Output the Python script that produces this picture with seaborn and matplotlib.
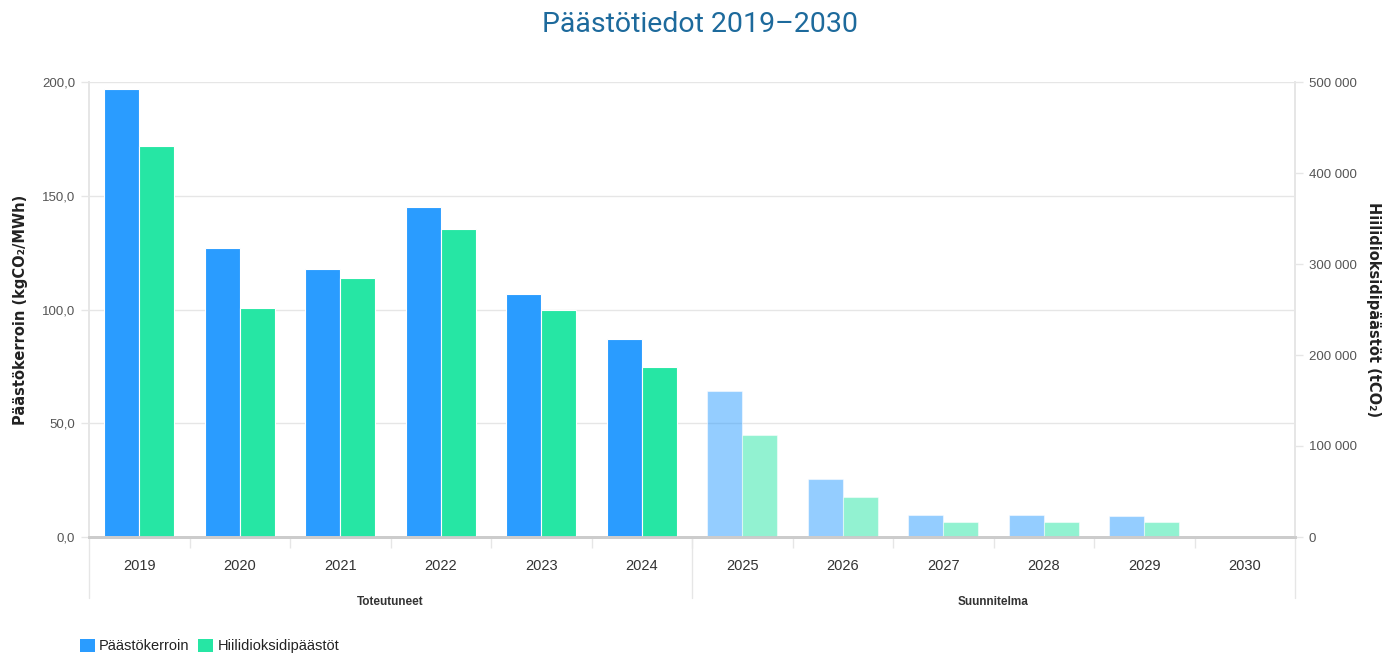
import matplotlib
matplotlib.use("Agg")
import matplotlib.pyplot as plt
import matplotlib.transforms as mtransforms
from matplotlib.patches import Patch
from matplotlib.ticker import FuncFormatter, MultipleLocator, FixedLocator
import seaborn as sns
import pandas as pd

# Data
years = ["2019", "2020", "2021", "2022", "2023", "2024",
         "2025", "2026", "2027", "2028", "2029", "2030"]
emission_factor = [197.0, 127.0, 118.0, 145.0, 107.0, 87.0,
                   64.0, 25.5, 9.7, 9.7, 9.3, 0.0]          # kgCO2/MWh
co2_emissions = [430000, 252000, 285000, 338000, 250000, 187000,
                 112000, 44000, 16500, 16500, 16000, 0]     # tCO2
groups = ["Toteutuneet", "Suunnitelma"]
group_sizes = [6, 6]
series = ["Päästökerroin", "Hiilidioksidipäästöt"]

BLUE = "#2a9cff"
GREEN = "#26e6a4"
GRID = "#e6e6e6"

sns.set_theme(style="white")
plt.rcParams["font.family"] = ["Liberation Sans", "DejaVu Sans"]

df_factor = pd.DataFrame({"Vuosi": years, "arvo": emission_factor, "Sarja": series[0]})
df_co2 = pd.DataFrame({"Vuosi": years, "arvo": co2_emissions, "Sarja": series[1]})

W, H = 1399, 657
fig = plt.figure(figsize=(W / 100, H / 100), dpi=100)
left, right, top, bottom = 89, 1295, 82, 537
ax1 = fig.add_axes([left / W, 1 - bottom / H, (right - left) / W, (bottom - top) / H])
ax2 = ax1.twinx()

palette = {series[0]: BLUE, series[1]: GREEN}
bar_kw = dict(x="Vuosi", y="arvo", hue="Sarja", hue_order=series, order=years,
              palette=palette, width=0.7, saturation=1, legend=False, dodge=True,
              edgecolor="white", linewidth=0.8)
sns.barplot(data=df_factor, ax=ax1, **bar_kw)
sns.barplot(data=df_co2, ax=ax2, **bar_kw)

# Planned years drawn translucent
n_actual = group_sizes[0]
for ax in (ax1, ax2):
    for p in ax.patches:
        cx = p.get_x() + p.get_width() / 2
        if cx > n_actual - 0.5:
            p.set_alpha(0.5)

ax1.set_xlim(-0.5, len(years) - 0.5)
ax1.set_ylim(0, 200)
ax2.set_ylim(0, 500000)

title_font = ["DejaVu Sans"]

# Left axis
ax1.yaxis.set_major_locator(MultipleLocator(50))
ax1.yaxis.set_major_formatter(FuncFormatter(lambda v, _: f"{v:.1f}".replace(".", ",")))
ax1.grid(axis="y", color=GRID, linewidth=1)
ax1.set_axisbelow(True)
ax1.tick_params(axis="y", length=6, width=1, color=GRID, pad=4,
                labelsize=9.5, labelcolor="#555555", left=True)
ax1.set_ylabel("Päästökerroin (kgCO₂/MWh)", fontsize=10.5, fontweight="bold",
               color="#222222", family=title_font)
ax1.yaxis.set_label_coords(-0.0506, 0.5)

# Right axis
ax2.yaxis.set_major_locator(MultipleLocator(100000))
ax2.yaxis.set_major_formatter(FuncFormatter(lambda v, _: f"{int(v):,}".replace(",", " ")))
ax2.tick_params(axis="y", length=6, width=1, color=GRID, pad=4,
                labelsize=9.5, labelcolor="#555555", right=True)
ax2.set_ylabel("Hiilidioksidipäästöt (tCO₂)", fontsize=10.5, fontweight="bold",
               color="#222222", rotation=270, va="center", family=title_font)
ax2.yaxis.set_label_coords(1.0647, 0.5)
ax2.grid(False)

# Category axis
ax1.set_xlabel("")
ax2.set_xlabel("")
ax1.set_xticks(range(len(years)))
ax1.set_xticklabels(years)
ax1.xaxis.set_minor_locator(FixedLocator([i + 0.5 for i in range(len(years) - 1)]))
ax1.tick_params(axis="x", which="major", length=0, pad=16, labelsize=10.5, labelcolor="#333333")
ax1.tick_params(axis="x", which="minor", length=8, width=1, color=GRID, bottom=True)

for ax in (ax1, ax2):
    ax.spines["top"].set_visible(False)
    ax.spines["left"].set_color(GRID)
    ax.spines["right"].set_color(GRID)
    ax.spines["bottom"].set_color("#cccccc")
    ax.spines["bottom"].set_linewidth(2)

# Group separators and labels below the category axis
trans = mtransforms.blended_transform_factory(ax1.transData, ax1.transAxes)
axes_h = bottom - top
sep_bottom = -(598 - bottom) / axes_h
label_y = -(602 - bottom) / axes_h
start = 0
bounds = [-0.5]
for name, size in zip(groups, group_sizes):
    end = start + size
    bounds.append(end - 0.5)
    ax1.text((start + end - 1) / 2, label_y, name, transform=trans, ha="center", va="center",
             fontsize=8.5, fontweight="bold", color="#333333")
    start = end
for b in bounds:
    ax1.plot([b, b], [0, sep_bottom], transform=trans, color=GRID, linewidth=1, clip_on=False)

# Title
fig.text(0.5, 1 - 24 / H, "Päästötiedot 2019–2030", ha="center", va="center",
         fontsize=20.5, color="#1d6a9c", family=["Roboto", "DejaVu Sans"])

# Legend
handles = [Patch(facecolor=BLUE, edgecolor="none"), Patch(facecolor=GREEN, edgecolor="none")]
fig.legend(handles, series, loc="center left", bbox_to_anchor=(0.048, 1 - 646 / H),
           frameon=False, ncol=2, handlelength=1.0, handleheight=1.0,
           columnspacing=0.6, handletextpad=0.3, fontsize=10.5, labelcolor="#222222")

fig.savefig("out.png", dpi=100)
